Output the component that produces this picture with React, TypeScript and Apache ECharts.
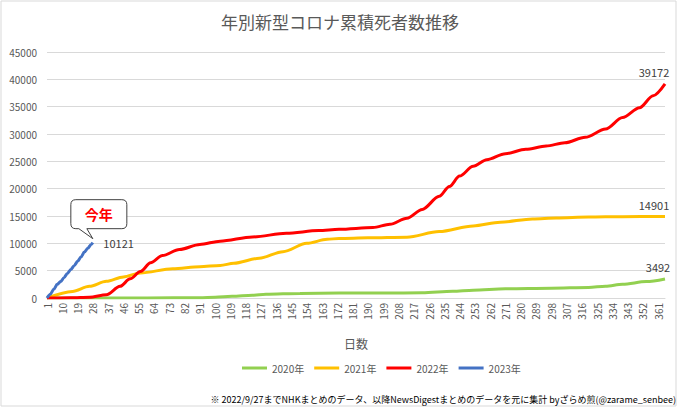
import React, { useEffect, useRef } from "react";
import * as echarts from "echarts";

const titleText = "年別新型コロナ累積死者数推移";
const xAxisName = "日数";
const footnote =
  "※ 2022/9/27までNHKまとめのデータ、以降NewsDigestまとめのデータを元に集計 byざらめ煎(@zarame_senbee)";
const calloutText = "今年";

const seriesNames = ["2020年", "2021年", "2022年", "2023年"];
const seriesColors = ["#92D050", "#FFC000", "#FF0000", "#4472C4"];

const categories = Array.from({ length: 365 }, (_, i) => String(i + 1));

const days2020 = [1, 60, 91, 100, 110, 122, 130, 150, 173, 200, 222, 240, 252, 271, 298, 320, 330, 340, 354, 365];
const vals2020 = [0, 10, 50, 150, 300, 500, 680, 830, 900, 920, 950, 1250, 1440, 1680, 1790, 1930, 2150, 2500, 3000, 3492];

const days2021 = [1, 16, 26, 36, 46, 56, 75, 91, 103, 111, 126, 140, 154, 166, 173, 190, 213, 232, 252, 268, 287, 301, 320, 340, 365];
const vals2021 = [0, 1210, 2130, 3050, 3860, 4590, 5330, 5730, 5940, 6350, 7270, 8480, 10000, 10730, 10900, 11000, 11120, 12150, 13190, 13860, 14470, 14650, 14800, 14880, 14901];

const days2022 = [1, 15, 26, 36, 44, 50, 56, 62, 69, 79, 91, 103, 122, 142, 161, 173, 193, 203, 213, 222, 232, 238, 244, 252, 260, 271, 283, 295, 306, 318, 330, 340, 350, 358, 365];
const vals2022 = [0, 30, 150, 600, 2130, 3500, 4830, 6430, 7770, 8870, 9790, 10400, 11160, 11840, 12330, 12570, 12880, 13490, 14600, 16200, 18600, 20400, 22300, 24100, 25300, 26400, 27200, 27800, 28400, 29400, 30900, 33000, 34800, 37000, 39172];

const days2023 = [1, 3, 5, 7, 9, 11, 13, 15, 17, 19, 21, 23, 25, 27, 28];
const vals2023 = [0, 700, 1600, 2500, 3000, 3700, 4500, 5200, 5900, 6700, 7500, 8400, 9100, 9800, 10121];

const yMax = 45000;
const yInterval = 5000;

const FONT = '"Noto Sans CJK JP", "Noto Sans", sans-serif';

const bubblePath =
  "M-17,-39 H29 Q34,-39 34,-34 V-15 Q34,-10 29,-10 H-6 L0,0 L-14,-10 H-17 Q-22,-10 -22,-15 V-34 Q-22,-39 -17,-39 Z";
echarts.graphic.registerShape("bubble", echarts.graphic.extendPath(bubblePath, {}) as any);

function buildSeries(
  name: string,
  color: string,
  days: number[],
  vals: number[],
  labelPosition: string,
  labelOffset: number[]
) {
  const data = days.map((d, i) => [String(d), vals[i]]);
  const lastDay = days[days.length - 1];
  const lastVal = vals[vals.length - 1];
  return {
    name,
    type: "line",
    data,
    smooth: 0.3,
    smoothMonotone: "x",
    showSymbol: false,
    symbol: "none",
    lineStyle: { color, width: 3 },
    itemStyle: { color },
    emphasis: { disabled: true },
    markPoint: {
      silent: true,
      symbol: "circle",
      symbolSize: 1,
      itemStyle: { color: "rgba(0,0,0,0)" },
      data: [
        {
          coord: [String(lastDay), lastVal],
          value: lastVal,
          label: {
            show: true,
            position: labelPosition,
            offset: labelOffset,
            formatter: String(lastVal),
            color: "#404040",
            fontSize: 11,
            fontFamily: FONT,
            distance: 6,
          },
        },
      ],
    },
  };
}

export default function App() {
  const ref = useRef<HTMLDivElement>(null);

  useEffect(() => {
    if (!ref.current) return;
    const chart = echarts.init(ref.current, null, { renderer: "svg" });
    const option: any = {
      animation: false,
      backgroundColor: "#ffffff",
      title: {
        text: titleText,
        left: "center",
        top: 8,
        textStyle: { color: "#595959", fontSize: 17, fontWeight: "normal", fontFamily: FONT },
      },
      legend: {
        data: seriesNames,
        left: 237,
        top: 358,
        icon: "rect",
        itemWidth: 25,
        itemHeight: 3,
        itemGap: 10,
        textStyle: { color: "#595959", fontSize: 10, fontFamily: FONT },
      },
      grid: { left: 47, right: 15, top: 52, bottom: 109, containLabel: false },
      xAxis: {
        type: "category",
        data: categories,
        boundaryGap: false,
        name: xAxisName,
        nameLocation: "middle",
        nameGap: 39,
        nameTextStyle: { color: "#595959", fontSize: 12, fontFamily: FONT },
        axisLine: { lineStyle: { color: "#d9d9d9", width: 1 } },
        axisTick: { show: false },
        axisLabel: {
          interval: 8,
          rotate: 90,
          color: "#595959",
          fontSize: 10,
          fontFamily: FONT,
          margin: 5,
        },
        splitLine: { show: false },
      },
      yAxis: {
        type: "value",
        min: 0,
        max: yMax,
        interval: yInterval,
        axisLine: { show: false },
        axisTick: { show: false },
        axisLabel: {
          color: "#595959",
          fontSize: 10,
          fontFamily: FONT,
          margin: 10,
          formatter: (v: number) => String(v),
        },
        splitLine: { lineStyle: { color: "#d9d9d9", width: 1 } },
      },
      series: [
        buildSeries(seriesNames[0], seriesColors[0], days2020, vals2020, "top", [-7, 0]),
        buildSeries(seriesNames[1], seriesColors[1], days2021, vals2021, "top", [-11, 0]),
        buildSeries(seriesNames[2], seriesColors[2], days2022, vals2022, "top", [-11, 0]),
        buildSeries(seriesNames[3], seriesColors[3], days2023, vals2023, "right", [4, 0]),
      ],
    };
    chart.setOption(option);

    const lastDay = days2023[days2023.length - 1];
    const lastVal = vals2023[vals2023.length - 1];
    const p = chart.convertToPixel({ xAxisIndex: 0, yAxisIndex: 0 }, [String(lastDay), lastVal]) as number[];
    const tipX = p[0];
    const tipY = p[1] - 4;

    chart.setOption({
      graphic: [
        {
          id: "border",
          type: "rect",
          shape: { x: 1, y: 1, width: 675, height: 405 },
          style: { fill: "none", stroke: "#d9d9d9", lineWidth: 1 },
          silent: true,
        },
        {
          id: "bubble",
          type: "bubble",
          x: tipX,
          y: tipY,
          style: { fill: "#ffffff", stroke: "#404040", lineWidth: 1 },
          z: 100,
        },
        {
          id: "bubbleText",
          type: "text",
          x: tipX + 6,
          y: tipY - 25,
          style: {
            text: calloutText,
            fill: "#FF0000",
            fontSize: 14,
            fontWeight: "bold",
            fontFamily: FONT,
            align: "center",
            verticalAlign: "middle",
          },
          z: 101,
        },
        {
          id: "footnote",
          type: "text",
          right: 4,
          top: 395,
          style: {
            text: footnote,
            fill: "#000000",
            fontSize: 9,
            fontFamily: FONT,
          },
        },
      ],
    });

    return () => chart.dispose();
  }, []);

  return (
    <div
      ref={ref}
      style={{ position: "fixed", left: 0, top: 0, width: 680, height: 407 }}
    />
  );
}
